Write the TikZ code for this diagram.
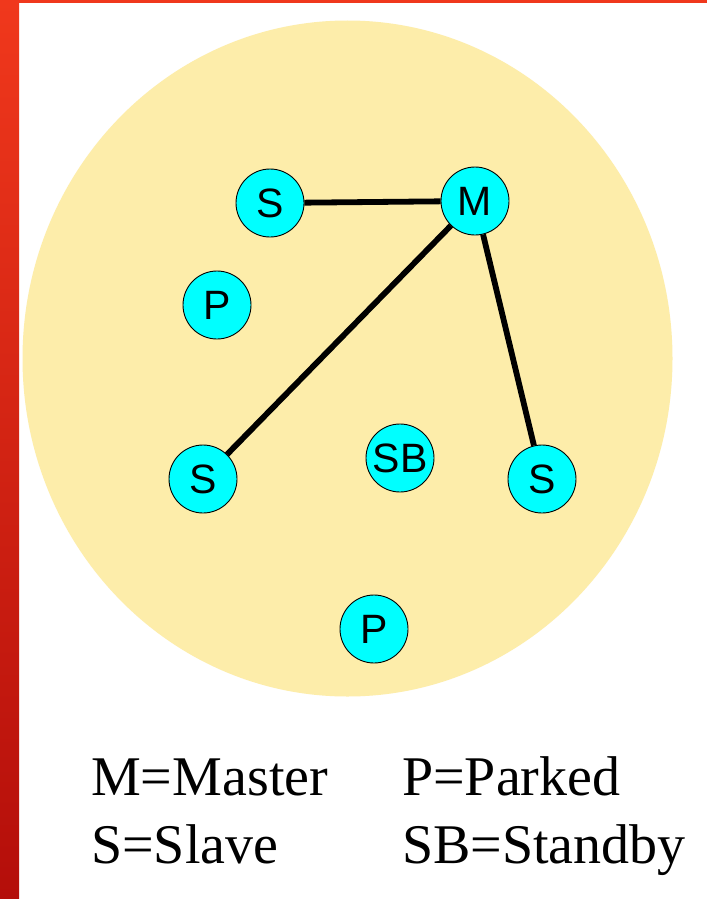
\documentclass[tikz,border=0pt]{standalone}
\usepackage{fontspec}
\setmainfont{Liberation Serif}
\newfontfamily\nodefont{Liberation Sans}
\definecolor{barTop}{RGB}{240,56,28}
\definecolor{barBottom}{RGB}{180,14,10}
\definecolor{cellFill}{RGB}{253,237,170}
\definecolor{devFill}{RGB}{0,255,255}
\begin{document}
\begin{tikzpicture}[x=1pt,y=-1pt,
  device/.style={circle,draw=black,line width=0.9pt,fill=devFill,
    minimum size=68pt,inner sep=0pt,
    font=\nodefont\fontsize{41}{41}\selectfont},
  link/.style={line width=5.8pt,black},
  legend/.style={anchor=base west,inner sep=0pt,
    font=\fontsize{56}{60}\selectfont}]
  \useasboundingbox (0,0) rectangle (707,899);
  \fill[white] (0,0) rectangle (707,899);
  % frame bars
  \shade[top color=barTop,bottom color=barBottom] (0,0) rectangle (19,899);
  \fill[barTop] (0,0) rectangle (707,3.5);
  % piconet area
  \fill[cellFill] (347.5,358.5) ellipse [x radius=325, y radius=338];
  % devices
  \node[device] (s1) at (270,203) {S};
  \node[device] (m)  at (475,201) {M};
  \node[device] (p1) at (217,305) {P};
  \node[device] (s2) at (203,479) {S};
  \node[device] (sb) at (400,458) {SB};
  \node[device] (s3) at (542,479) {S};
  \node[device] (p2) at (374,629) {P};
  % active links
  \draw[link] (s1) -- (m);
  \draw[link] (m) -- (s2);
  \draw[link] (m) -- (s3);
  % legend
  \node[legend] (lm)  at (91,795)  {M=Master};
  \node[legend] (lp)  at (402,795) {P=Parked};
  \node[legend] (ls)  at (91,863)  {S=Slave};
  \node[legend] (lsb) at (402,863) {SB=Standby};
\end{tikzpicture}
\end{document}
